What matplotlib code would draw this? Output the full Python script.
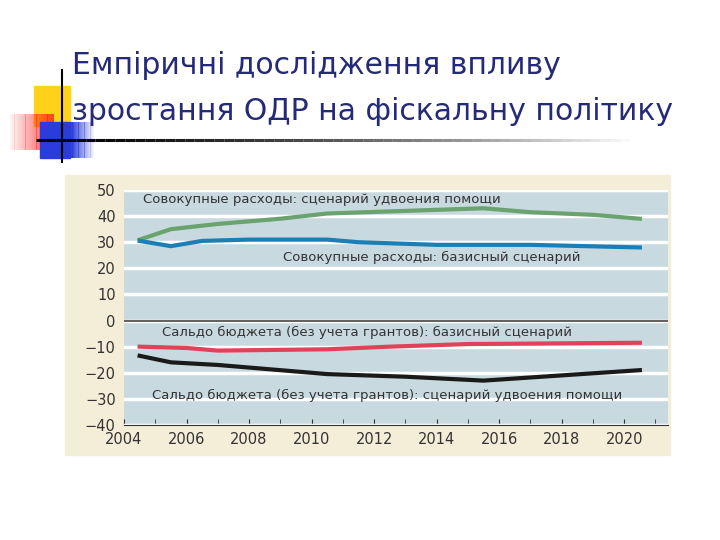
import matplotlib
matplotlib.use("Agg")
import matplotlib.pyplot as plt
from matplotlib.patches import Rectangle
import numpy as np

title_lines = ["Емпіричні дослідження впливу", "зростання ОДР на фіскальну політику"]

green_x = [2004.5, 2005.5, 2007, 2009, 2010.5, 2013, 2015.5, 2017, 2019, 2020.5]
green_y = [31, 35, 37, 39, 41, 42, 43, 41.5, 40.5, 39]
blue_x = [2004.5, 2005.5, 2006.5, 2008, 2010.5, 2011.5, 2014, 2017, 2020.5]
blue_y = [30.5, 28.5, 30.5, 31, 31, 30, 29, 29, 28]
red_x = [2004.5, 2006, 2007, 2010.5, 2012.5, 2015, 2020.5]
red_y = [-10, -10.5, -11.5, -11, -10, -9, -8.5]
black_x = [2004.5, 2005.5, 2007, 2009, 2010.5, 2013, 2015.5, 2018, 2020.5]
black_y = [-13.5, -16, -17, -19, -20.5, -21.5, -23, -21, -19]
labels = ["Совокупные расходы: сценарий удвоения помощи",
          "Совокупные расходы: базисный сценарий",
          "Сальдо бюджета (без учета грантов): базисный сценарий",
          "Сальдо бюджета (без учета грантов): сценарий удвоения помощи"]
xticks = list(range(2004, 2021, 2))
yticks = list(range(-40, 51, 10))

fig = plt.figure(figsize=(7.2, 5.4), dpi=100)
fig.patch.set_facecolor("white")

# decorations
deco = fig.add_axes([0, 0, 1, 1]); deco.set_xlim(0, 720); deco.set_ylim(540, 0); deco.axis("off")
deco.add_patch(Rectangle((34, 86), 36, 40, color="#ffd21a", zorder=1))
for i in range(20):
    deco.add_patch(Rectangle((10 + i * 2.2, 114), 2.4, 36, color="#ff2020", alpha=0.05 + 0.04 * i, lw=0, zorder=2))
deco.add_patch(Rectangle((40, 122), 30, 36, color="#2a3cdc", zorder=3))
for i in range(20):
    deco.add_patch(Rectangle((70 + i * 1.2, 122), 1.3, 36, color="#2a3cdc", alpha=1 - i * 0.05, lw=0, zorder=3))
deco.plot([62, 62], [70, 162], color="black", lw=1.5, zorder=4)
n = 60
xs = np.linspace(36, 630, n + 1)
for i in range(n):
    deco.plot([xs[i], xs[i + 1]], [140, 140], color="black", lw=2.2, alpha=max(0.0, 1 - (i / n) ** 1.5), solid_capstyle="butt", zorder=4)
deco.text(72, 80, title_lines[0], fontsize=21.5, color="#252a78", va="bottom")
deco.text(72, 126, title_lines[1], fontsize=21.5, color="#252a78", va="bottom")
deco.add_patch(Rectangle((65, 175), 605, 280, color="#f4edd8", zorder=0))

ax = fig.add_axes([124 / 720, 1 - 425 / 540, (668 - 124) / 720, (425 - 190) / 540])
ax.set_facecolor("#c9d9e0")
ax.set_xlim(2004, 2021.4)
ax.set_ylim(-40, 50)
ax.set_yticks(yticks)
ax.set_xticks(xticks)
ax.set_xticks(range(2004, 2022), minor=True)
ax.grid(axis="y", color="white", lw=2.5)
ax.set_axisbelow(True)
ax.axhline(0, color="#444444", lw=1.2)
for s in ["top", "right", "left"]:
    ax.spines[s].set_visible(False)
ax.spines["bottom"].set_color("#333333")
ax.tick_params(axis="y", length=0, labelsize=10.5, colors="#333333", pad=6)
ax.tick_params(axis="x", which="both", direction="in", length=4, labelsize=10.5, colors="#333333", pad=5)
ax.set_yticklabels([f"−{-v}" if v < 0 else str(v) for v in yticks])

ax.plot(green_x, green_y, color="#6aa36e", lw=3)
ax.plot(blue_x, blue_y, color="#1a7fb4", lw=3)
ax.plot(red_x, red_y, color="#e0425a", lw=3)
ax.plot(black_x, black_y, color="#1a1a1a", lw=3)
tk = dict(fontsize=9.5, color="#333333", va="center")
ax.text(2004.6, 46.5, labels[0], **tk)
ax.text(2009.1, 24, labels[1], **tk)
ax.text(2005.2, -4.5, labels[2], **tk)
ax.text(2004.9, -28.5, labels[3], **tk)

fig.savefig("out.png", dpi=100)
